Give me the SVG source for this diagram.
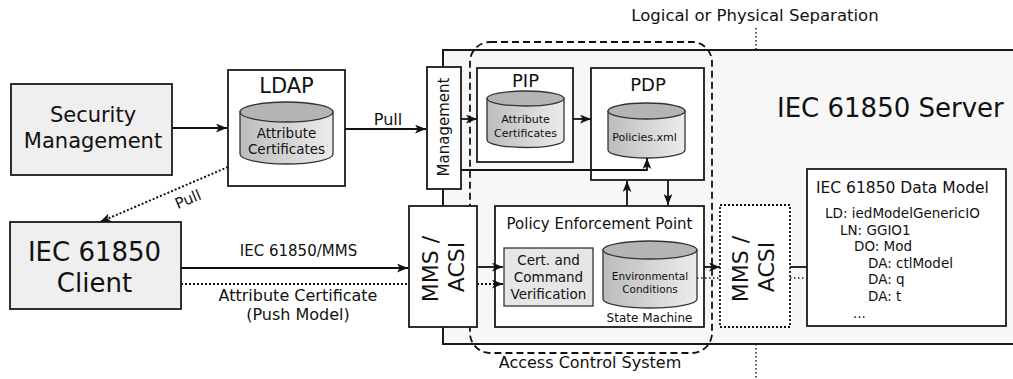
<svg xmlns="http://www.w3.org/2000/svg" width="1013" height="379" viewBox="0 0 1013 379">
  <style>
    text { font-family: "DejaVu Sans", Verdana, sans-serif; fill: #111; }
    .box { fill: #ffffff; stroke: #1a1a1a; stroke-width: 1.8; }
    .grey { fill: #efefef; stroke: #1a1a1a; stroke-width: 1.8; }
    .cyl { fill: url(#cylBody); stroke: #333; stroke-width: 1.3; }
    .cyltop { fill: #b4b4b4; stroke: #333; stroke-width: 1.3; }
    .line { fill: none; stroke: #111; stroke-width: 1.8; }
    .dot { fill: none; stroke: #111; stroke-width: 2; stroke-dasharray: 2 2; }
    .thin-dot { fill: none; stroke: #222; stroke-width: 1.5; stroke-dasharray: 1.5 2.5; }
    .mid { text-anchor: middle; }
  </style>
  <defs>
    <linearGradient id="cylBody" x1="0" y1="0" x2="1" y2="0">
      <stop offset="0" stop-color="#bcbcbc"/>
      <stop offset="1" stop-color="#ececec"/>
    </linearGradient>
    <marker id="arrow" viewBox="0 0 10 8" refX="10" refY="4" markerWidth="11" markerHeight="9" markerUnits="userSpaceOnUse" orient="auto">
      <path d="M0,0 L10,4 L0,8 L2.5,4 z" fill="#111"/>
    </marker>
  </defs>

  <!-- separation line and its caption -->
  <g id="separation">
    <line class="thin-dot" x1="756" y1="28" x2="756" y2="379"/>
    <text class="mid" x="755" y="21" font-size="16.5">Logical or Physical Separation</text>
  </g>

  <!-- server enclosure -->
  <g id="server">
    <rect x="443" y="50" width="580" height="294" fill="#f7f7f7" stroke="#1a1a1a" stroke-width="2"/>
    <text x="777" y="117" font-size="26">IEC 61850 Server</text>
  </g>

  <!-- access control system boundary -->
  <g id="access-control">
    <rect x="470" y="42" width="242" height="311" rx="20" ry="20" fill="none" stroke="#111" stroke-width="1.8" stroke-dasharray="7 4"/>
    <text class="mid" x="590" y="368" font-size="16">Access Control System</text>
  </g>

  <g id="security-management">
    <rect class="grey" x="11" y="84" width="161" height="91"/>
    <text class="mid" x="93" y="122" font-size="21">Security</text>
    <text class="mid" x="93" y="148" font-size="21">Management</text>
  </g>

  <g id="ldap">
    <rect class="box" x="228" y="70" width="117" height="116"/>
    <text class="mid" x="286.5" y="93" font-size="21">LDAP</text>
    <path class="cyl" d="M240,112 L240,154 A46.5,10 0 0 0 333,154 L333,112 Z"/>
    <ellipse class="cyltop" cx="286.5" cy="112" rx="46.5" ry="10"/>
    <text class="mid" x="286.5" y="138" font-size="13.5">Attribute</text>
    <text class="mid" x="286.5" y="154" font-size="13.5">Certificates</text>
  </g>

  <g id="client">
    <rect class="grey" x="10" y="222" width="171" height="87"/>
    <text class="mid" x="94.5" y="261" font-size="26">IEC 61850</text>
    <text class="mid" x="94.5" y="292" font-size="26">Client</text>
  </g>

  <g id="management">
    <rect class="box" x="427" y="67" width="34" height="122"/>
    <text class="mid" x="449" y="127" font-size="15" transform="rotate(-90 449 127)">Management</text>
  </g>

  <g id="mms-acsi-left">
    <rect class="box" x="409" y="206" width="68" height="121"/>
    <text class="mid" x="437.5" y="269" font-size="22" transform="rotate(-90 437.5 269)">MMS /</text>
    <text class="mid" x="464" y="267" font-size="22" transform="rotate(-90 464 267)">ACSI</text>
  </g>

  <g id="pip">
    <rect class="box" x="477" y="68" width="96" height="94"/>
    <text class="mid" x="525.5" y="87" font-size="18">PIP</text>
    <path class="cyl" d="M487,98.5 L487,140 A38.5,7.5 0 0 0 564,140 L564,98.5 Z"/>
    <ellipse class="cyltop" cx="525.5" cy="98.5" rx="38.5" ry="7.5"/>
    <text class="mid" x="525.5" y="123" font-size="11">Attribute</text>
    <text class="mid" x="525.5" y="137" font-size="11">Certificates</text>
  </g>

  <g id="pdp">
    <rect class="box" x="591" y="68" width="113" height="112"/>
    <text class="mid" x="648" y="91" font-size="18">PDP</text>
    <path class="cyl" d="M608,111 L608,150 A38.5,8 0 0 0 685,150 L685,111 Z"/>
    <ellipse class="cyltop" cx="646.5" cy="111" rx="38.5" ry="8"/>
    <text class="mid" x="644.5" y="141" font-size="11">Policies.xml</text>
  </g>

  <g id="pep">
    <rect class="box" x="495" y="206" width="209" height="121"/>
    <text class="mid" x="599.5" y="229" font-size="15">Policy Enforcement Point</text>
    <rect x="504" y="248" width="89" height="58" fill="#e6e6e6" stroke="#333" stroke-width="1.3"/>
    <text class="mid" x="548.5" y="265" font-size="13.5">Cert. and</text>
    <text class="mid" x="548.5" y="282" font-size="13.5">Command</text>
    <text class="mid" x="548.5" y="299" font-size="13.5">Verification</text>
    <path class="cyl" d="M603,250 L603,299 A47,9 0 0 0 697,299 L697,250 Z"/>
    <ellipse class="cyltop" cx="650" cy="250" rx="47" ry="9"/>
    <text class="mid" x="650" y="280" font-size="10.5">Environmental</text>
    <text class="mid" x="650" y="293" font-size="10.5">Conditions</text>
    <text class="mid" x="649.5" y="322" font-size="12">State Machine</text>
  </g>

  <g id="mms-acsi-right">
    <rect x="720" y="205" width="70" height="122" fill="#ffffff" stroke="#111" stroke-width="1.8" stroke-dasharray="2 2"/>
    <text class="mid" x="748" y="269" font-size="22" transform="rotate(-90 748 269)">MMS /</text>
    <text class="mid" x="774" y="267" font-size="22" transform="rotate(-90 774 267)">ACSI</text>
  </g>

  <g id="data-model">
    <rect class="box" x="807" y="169" width="199" height="157"/>
    <text x="816" y="193" font-size="15.5">IEC 61850 Data Model</text>
    <text x="825" y="218" font-size="13.5">LD: iedModelGenericIO</text>
    <text x="840" y="235" font-size="13.5">LN: GGIO1</text>
    <text x="854" y="251" font-size="13.5">DO: Mod</text>
    <text x="868" y="268" font-size="13.5">DA: ctlModel</text>
    <text x="868" y="284" font-size="13.5">DA: q</text>
    <text x="868" y="301" font-size="13.5">DA: t</text>
    <text x="853" y="318" font-size="13.5">...</text>
  </g>

  <!-- connectors -->
  <g id="connectors">
    <line class="line" x1="172" y1="128" x2="227" y2="128" marker-end="url(#arrow)"/>
    <line class="line" x1="345" y1="129" x2="426" y2="129" marker-end="url(#arrow)"/>
    <text class="mid" x="388" y="125" font-size="16">Pull</text>

    <line class="dot" x1="228" y1="167" x2="100" y2="222" marker-end="url(#arrow)"/>
    <text class="mid" x="190" y="204" font-size="15" transform="rotate(-23 190 204)">Pull</text>

    <line class="line" x1="181" y1="268" x2="408" y2="268" marker-end="url(#arrow)"/>
    <text class="mid" x="298.5" y="256" font-size="15">IEC 61850/MMS</text>
    <line class="dot" x1="181" y1="284" x2="409" y2="284"/>
    <text class="mid" x="298" y="301" font-size="16">Attribute Certificate</text>
    <text class="mid" x="298" y="320" font-size="16">(Push Model)</text>

    <line class="line" x1="461" y1="119" x2="477" y2="119" marker-end="url(#arrow)"/>
    <line class="line" x1="573" y1="119" x2="591" y2="119" marker-end="url(#arrow)"/>
    <polyline class="line" points="461,170 647,170 647,158" marker-end="url(#arrow)"/>

    <line class="line" x1="627" y1="206" x2="627" y2="181" marker-end="url(#arrow)"/>
    <line class="line" x1="668" y1="180" x2="668" y2="205" marker-end="url(#arrow)"/>

    <line class="line" x1="477" y1="267" x2="503" y2="267" marker-end="url(#arrow)"/>
    <line class="dot" x1="477" y1="284" x2="503" y2="284" marker-end="url(#arrow)"/>

    <line class="line" x1="704" y1="267" x2="720" y2="267" marker-end="url(#arrow)"/>
    <line class="thin-dot" x1="697" y1="278" x2="720" y2="278"/>

    <line class="line" x1="790" y1="267" x2="807" y2="267"/>
    <line class="thin-dot" x1="790" y1="278" x2="807" y2="278"/>
  </g>
</svg>
